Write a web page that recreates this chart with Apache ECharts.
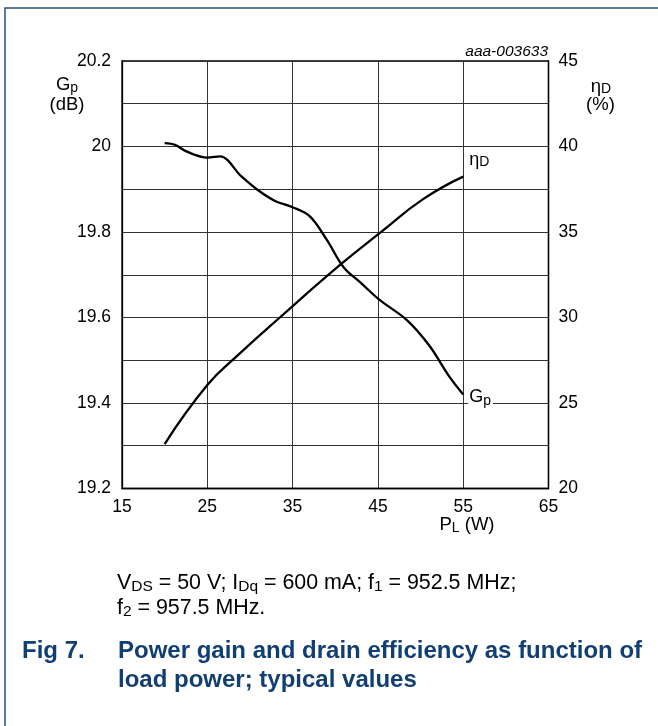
<!DOCTYPE html>
<html>
<head>
<meta charset="utf-8">
<script src="https://cdn.jsdelivr.net/npm/echarts@6/dist/echarts.min.js"></script>
<style>
html,body{margin:0;padding:0;background:#fff;}
#c{width:658px;height:726px;}
</style>
</head>
<body>
<div id="c"></div>
<script>
// ---- data ----
const xTicks = [15, 25, 35, 45, 55, 65];
const gpTickLabels = ['19.2', '19.4', '19.6', '19.8', '20', '20.2'];
const etaTickLabels = ['20', '25', '30', '35', '40', '45'];

const gpPL  = [20, 21.2, 22.6, 25, 26.5, 29, 31, 33, 35, 37, 39, 41, 43, 45.2, 48.4, 51, 53.4, 55];
const gpVal = [20.008, 20.004, 19.988, 19.974, 19.977, 19.93, 19.897, 19.872, 19.858, 19.837, 19.782, 19.717, 19.681, 19.641, 19.594, 19.535, 19.461, 19.42];

const etaPL  = [20, 25, 28.4, 33.5, 40.7, 45.2, 50.3, 55];
const etaVal = [22.6, 26.05, 27.71, 30.0, 33.13, 34.93, 36.92, 38.24];

// ---- chart ----
const FONT = '"Liberation Sans", Arial, Helvetica, sans-serif';
const BLUE = '#123f73';
const gpData = gpPL.map((x, i) => [x, gpVal[i]]);
const etaData = etaPL.map((x, i) => [x, etaVal[i]]);
const lastGp = gpData[gpData.length - 1];
const lastEta = etaData[etaData.length - 1];

const subRich = (size, sub, drop) => ({
  a: {fontSize: size, fontFamily: FONT, color: '#000'},
  b: {fontSize: sub, fontFamily: FONT, color: '#000', padding: [drop, 0, 0, 0]}
});
const gRich = (size, sub, drop, weight) => ({
  a: {fontSize: size, fontFamily: FONT, fontWeight: weight || 'normal'},
  b: {fontSize: sub, fontFamily: FONT, padding: [drop, 0, 0, 0]}
});

const chart = echarts.init(document.getElementById('c'), null, {renderer: 'canvas'});
const axisLineStyle = {color: '#000', width: 1.3};
const option = {
  animation: false,
  backgroundColor: '#fff',
  grid: {left: 122, right: 109.5, top: 61, bottom: 237.5, show: true, borderColor: '#000', borderWidth: 1.3, containLabel: false},
  xAxis: {
    type: 'value', min: xTicks[0], max: xTicks[xTicks.length - 1], interval: xTicks[1] - xTicks[0],
    axisLine: {show: true, lineStyle: axisLineStyle},
    axisTick: {show: false},
    axisLabel: {color: '#000', fontSize: 17.5, fontFamily: FONT, margin: 10},
    splitLine: {show: true, lineStyle: {color: '#333', width: 1}}
  },
  yAxis: [
    {
      type: 'value', position: 'left', min: 19.2, max: 20.2, interval: 0.1,
      axisLine: {show: true, lineStyle: axisLineStyle},
      axisTick: {show: false},
      axisLabel: {
        color: '#000', fontSize: 17.5, fontFamily: FONT, margin: 11,
        formatter: v => { const s = String(Math.round(v * 10) / 10); return gpTickLabels.includes(s) ? s : ''; }
      },
      splitLine: {show: true, lineStyle: {color: '#333', width: 1}}
    },
    {
      type: 'value', position: 'right', min: 20, max: 45, interval: 5,
      axisLine: {show: true, lineStyle: axisLineStyle},
      axisTick: {show: false},
      axisLabel: {
        color: '#000', fontSize: 17.5, fontFamily: FONT, margin: 10,
        formatter: v => { const s = String(Math.round(v)); return etaTickLabels.includes(s) ? s : ''; }
      },
      splitLine: {show: false}
    }
  ],
  series: [
    {
      name: 'Gp', type: 'line', yAxisIndex: 0, data: gpData, smooth: 0.35,
      symbol: 'none', lineStyle: {color: '#000', width: 2.3}, z: 5,
      markPoint: {
        symbol: 'circle', symbolSize: 0, silent: true,
        data: [{coord: lastGp}],
        label: {
          show: true, position: 'right', distance: 5, offset: [0, 3],
          formatter: '{a|G}{b|p}', backgroundColor: '#fff', padding: [0, 2, 0, 1],
          rich: subRich(18, 14, 7)
        }
      }
    },
    {
      name: 'eta', type: 'line', yAxisIndex: 1, data: etaData, smooth: 0.5,
      symbol: 'none', lineStyle: {color: '#000', width: 2.3}, z: 5,
      markPoint: {
        symbol: 'circle', symbolSize: 0, silent: true,
        data: [{coord: lastEta}],
        label: {
          show: true, position: 'right', distance: 6, offset: [0, -17],
          formatter: '{a|η}{b|D}',
          rich: subRich(18, 14, 5)
        }
      }
    }
  ],
  graphic: [
    {type: 'rect', silent: true, shape: {x: 5, y: 8, width: 720, height: 800},
     style: {fill: 'none', stroke: '#24507e', lineWidth: 1.5}},
    {type: 'text', style: {text: 'aaa-003633', x: 548, y: 52, textAlign: 'right', textVerticalAlign: 'middle',
     fontSize: 15.5, fontStyle: 'italic', fontFamily: FONT, fill: '#000'}},
    {type: 'text', style: {text: '{a|G}{b|p}', x: 67, y: 85, textAlign: 'center', textVerticalAlign: 'middle',
     fill: '#000', rich: gRich(18.5, 14, 7)}},
    {type: 'text', style: {text: '(dB)', x: 67, y: 105, textAlign: 'center', textVerticalAlign: 'middle',
     fontSize: 18.5, fontFamily: FONT, fill: '#000'}},
    {type: 'text', style: {text: '{a|η}{b|D}', x: 601, y: 87, textAlign: 'center', textVerticalAlign: 'middle',
     fill: '#000', rich: gRich(18.5, 14, 5)}},
    {type: 'text', style: {text: '(%)', x: 600.5, y: 105, textAlign: 'center', textVerticalAlign: 'middle',
     fontSize: 18.5, fontFamily: FONT, fill: '#000'}},
    {type: 'text', style: {text: '{a|P}{b|L}{a| (W)}', x: 467, y: 525, textAlign: 'center', textVerticalAlign: 'middle',
     fill: '#000', rich: gRich(18.5, 14, 7)}},
    {type: 'text', style: {text: '{a|V}{b|DS}{a| = 50 V; I}{b|Dq}{a| = 600 mA; f}{b|1}{a| = 952.5 MHz;}',
     x: 117, y: 583, textAlign: 'left', textVerticalAlign: 'middle', fill: '#000', rich: gRich(21.4, 15.5, 8)}},
    {type: 'text', style: {text: '{a|f}{b|2}{a| = 957.5 MHz.}',
     x: 117, y: 608, textAlign: 'left', textVerticalAlign: 'middle', fill: '#000', rich: gRich(21.4, 15.5, 8)}},
    {type: 'text', style: {text: 'Fig 7.', x: 22, y: 651, textAlign: 'left', textVerticalAlign: 'middle',
     fontSize: 24, fontWeight: 'bold', fontFamily: FONT, fill: BLUE}},
    {type: 'text', style: {text: 'Power gain and drain efficiency as function of', x: 118, y: 651, textAlign: 'left', textVerticalAlign: 'middle',
     fontSize: 24, fontWeight: 'bold', fontFamily: FONT, fill: BLUE}},
    {type: 'text', style: {text: 'load power; typical values', x: 118, y: 680, textAlign: 'left', textVerticalAlign: 'middle',
     fontSize: 24, fontWeight: 'bold', fontFamily: FONT, fill: BLUE}}
  ]
};
chart.setOption(option);
</script>
</body>
</html>
